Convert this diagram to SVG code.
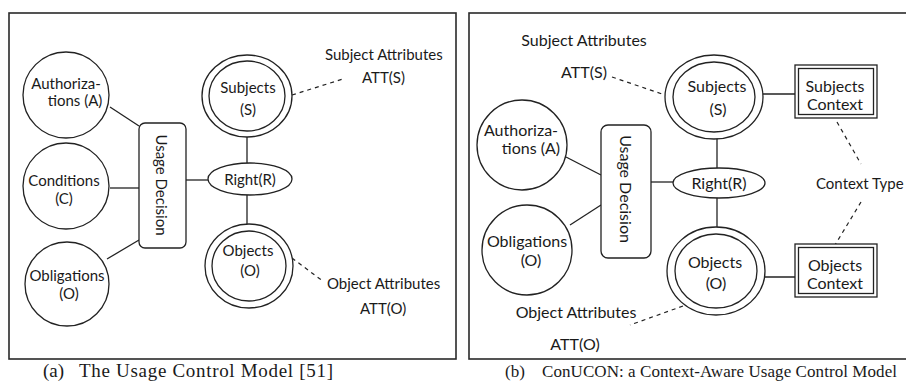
<svg xmlns="http://www.w3.org/2000/svg" width="906" height="381" viewBox="0 0 906 381">
  <style>
    .frame { fill: none; stroke: #2a2a2a; stroke-width: 1.6; }
    .shape { fill: #fff; stroke: #222; stroke-width: 1.3; }
    .link { stroke: #222; stroke-width: 1.3; fill: none; }
    .dash { stroke: #222; stroke-width: 1.2; fill: none; stroke-dasharray: 4 4; }
    text { font-family: Lato, "Liberation Sans", sans-serif; font-size: 15px; fill: #1a1a1a; }
    .pb text { font-size: 16px; }
    .pb text.small { font-size: 15px; }
    .c { text-anchor: middle; }
    text.capa { font-family: "Liberation Serif", "Times New Roman", serif; font-size: 19px; }
    text.capb { font-family: "Liberation Serif", "Times New Roman", serif; font-size: 17px; }
  </style>

  <!-- panel frames -->
  <rect class="frame" x="9" y="13" width="447" height="346"/>
  <rect class="frame" x="469" y="13" width="445" height="346"/>

  <!-- ===== (a) Usage control model ===== -->
  <g id="a-connectors">
    <line class="link" x1="110" y1="107" x2="139" y2="126"/>
    <line class="link" x1="110" y1="188" x2="139" y2="188"/>
    <line class="link" x1="107" y1="259" x2="139" y2="240"/>
    <line class="link" x1="186" y1="180" x2="208" y2="180"/>
    <line class="link" x1="247" y1="137" x2="247" y2="163"/>
    <line class="link" x1="247" y1="195" x2="247" y2="224"/>
    <line class="dash" x1="292" y1="95" x2="343" y2="79"/>
    <line class="dash" x1="292" y1="258" x2="324" y2="282"/>
  </g>

  <g id="a-authorizations">
    <circle class="shape" cx="66" cy="95" r="43"/>
    <text class="c" x="66" y="89">Authoriza-</text>
    <text class="c" x="75" y="106">tions (A)</text>
  </g>
  <g id="a-conditions">
    <circle class="shape" cx="66" cy="186" r="43"/>
    <text class="c" x="64" y="186">Conditions</text>
    <text class="c" x="64" y="204">(C)</text>
  </g>
  <g id="a-obligations">
    <circle class="shape" cx="67" cy="284" r="42"/>
    <text class="c" x="67" y="281">Obligations</text>
    <text class="c" x="69" y="299">(O)</text>
  </g>
  <g id="a-usage-decision">
    <rect class="shape" x="139" y="123" width="47" height="125" rx="6"/>
    <text class="c" transform="translate(162 185) rotate(90)" dominant-baseline="central">Usage Decision</text>
  </g>
  <g id="a-right">
    <ellipse class="shape" cx="250" cy="179" rx="42" ry="16"/>
    <text class="c" x="250" y="185">Right(R)</text>
  </g>
  <g id="a-subjects">
    <ellipse class="shape" cx="247" cy="96" rx="45" ry="41"/>
    <ellipse class="shape" cx="247" cy="96" rx="38" ry="35"/>
    <text class="c" x="248" y="93">Subjects</text>
    <text class="c" x="248" y="115">(S)</text>
  </g>
  <g id="a-objects">
    <ellipse class="shape" cx="249" cy="266" rx="44" ry="42"/>
    <ellipse class="shape" cx="249" cy="266" rx="37" ry="35"/>
    <text class="c" x="248" y="256">Objects</text>
    <text class="c" x="250" y="276">(O)</text>
  </g>
  <g id="a-subject-attributes">
    <text x="325" y="60">Subject Attributes</text>
    <text x="362" y="83">ATT(S)</text>
  </g>
  <g id="a-object-attributes">
    <text x="327" y="289">Object Attributes</text>
    <text x="360" y="314">ATT(O)</text>
  </g>
  <text class="capa" x="43" y="377">(a)</text>
  <text class="capa" x="79" y="377" textLength="254" lengthAdjust="spacing">The Usage Control Model [51]</text>

  <!-- ===== (b) ConUCON ===== -->
  <g id="b-connectors">
    <line class="link" x1="566" y1="157" x2="601" y2="175"/>
    <line class="link" x1="570" y1="225" x2="601" y2="205"/>
    <line class="link" x1="651" y1="182" x2="673" y2="182"/>
    <line class="link" x1="717" y1="138" x2="717" y2="168"/>
    <line class="link" x1="717" y1="198" x2="717" y2="228"/>
    <line class="link" x1="762" y1="94" x2="795" y2="94"/>
    <line class="link" x1="756" y1="277" x2="795" y2="277"/>
    <line class="dash" x1="612" y1="77" x2="668" y2="96"/>
    <line class="dash" x1="837" y1="122" x2="861" y2="164"/>
    <line class="dash" x1="861" y1="202" x2="835" y2="245"/>
    <line class="dash" x1="683" y1="306" x2="630" y2="325"/>
  </g>

  <g class="pb">
    <g id="b-authorizations">
      <circle class="shape" cx="522" cy="145" r="45"/>
      <text class="c" x="521" y="136">Authoriza-</text>
      <text class="c" x="531" y="154">tions (A)</text>
    </g>
    <g id="b-obligations">
      <circle class="shape" cx="527" cy="250" r="45"/>
      <text class="c" x="527" y="247">Obligations</text>
      <text class="c" x="531" y="266">(O)</text>
    </g>
    <g id="b-usage-decision">
      <rect class="shape" x="601" y="125" width="50" height="133" rx="7"/>
      <text class="c" transform="translate(626 189) rotate(90)" dominant-baseline="central">Usage Decision</text>
    </g>
    <g id="b-right">
      <ellipse class="shape" cx="719" cy="183" rx="46" ry="15"/>
      <text class="c" x="719" y="189">Right(R)</text>
    </g>
    <g id="b-subjects">
      <ellipse class="shape" cx="714" cy="97" rx="49" ry="42"/>
      <ellipse class="shape" cx="714" cy="97" rx="41" ry="35"/>
      <text class="c" x="717" y="92">Subjects</text>
      <text class="c" x="718" y="115">(S)</text>
    </g>
    <g id="b-objects">
      <ellipse class="shape" cx="716" cy="271" rx="49" ry="44"/>
      <ellipse class="shape" cx="716" cy="271" rx="41" ry="37"/>
      <text class="c" x="715" y="268">Objects</text>
      <text class="c" x="716" y="289">(O)</text>
    </g>
    <g id="b-subjects-context">
      <rect class="shape" x="795" y="65" width="82" height="53"/>
      <rect class="shape" x="798.5" y="68.5" width="75" height="46"/>
      <text class="c" x="835" y="92">Subjects</text>
      <text class="c" x="835" y="110">Context</text>
    </g>
    <g id="b-objects-context">
      <rect class="shape" x="795" y="244" width="82" height="53"/>
      <rect class="shape" x="798.5" y="247.5" width="75" height="46"/>
      <text class="c" x="835" y="271">Objects</text>
      <text class="c" x="835" y="289">Context</text>
    </g>
    <g id="b-context-type">
      <text class="small" x="816" y="189">Context Type</text>
    </g>
    <g id="b-subject-attributes">
      <text class="c" x="584" y="46">Subject Attributes</text>
      <text class="c" x="584" y="78">ATT(S)</text>
    </g>
    <g id="b-object-attributes">
      <text class="c" x="576" y="318">Object Attributes</text>
      <text class="c" x="575" y="350">ATT(O)</text>
    </g>
  </g>
  <text class="capb" x="505" y="377">(b)</text>
  <text class="capb" x="542" y="377" textLength="355" lengthAdjust="spacing">ConUCON: a Context-Aware Usage Control Model</text>
</svg>
